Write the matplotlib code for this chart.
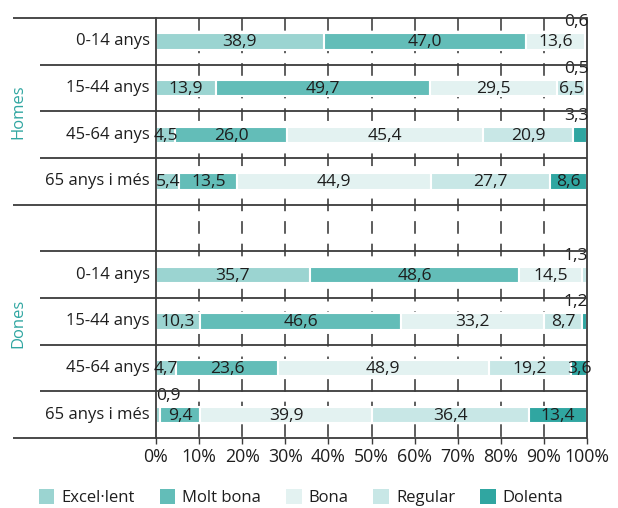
import numpy as np
import matplotlib.pyplot as plt
from matplotlib.patches import Patch

plt.rcParams['font.family'] = ['Open Sans', 'DejaVu Sans']

ages = ['0-14 anys', '15-44 anys', '45-64 anys', '65 anys i més']
groups = ['Homes', 'Dones']
levels = ['Excel·lent', 'Molt bona', 'Bona', 'Regular', 'Dolenta']
colors = ['#9bd4d1', '#63bdb8', '#e3f2f1', '#c8e7e6', '#30a6a1']

# Homes (4 age bands) followed by Dones (4 age bands)
excellent = [38.9, 13.9, 4.5, 5.4, 35.7, 10.3, 4.7, 0.9]
molt_bona = [47.0, 49.7, 26.0, 13.5, 48.6, 46.6, 23.6, 9.4]
bona = [13.6, 29.5, 45.4, 44.9, 14.5, 33.2, 48.9, 39.9]
regular = [0.6, 6.5, 20.9, 27.7, 1.3, 8.7, 19.2, 36.4]
dolenta = [0.0, 0.5, 3.3, 8.6, 0.0, 1.2, 3.6, 13.4]

series = [excellent, molt_bona, bona, regular, dolenta]
# labels that sit above the bar instead of inside it: (row, series)
above = {(0, 3), (1, 4), (2, 4), (4, 3), (5, 4), (7, 0)}

ypos = [0, 1, 2, 3, 5, 6, 7, 8]
text_col = '#1e1e1e'
line_col = '#3c3c3c'

fig = plt.figure(figsize=(6.18, 5.08), dpi=100)
ax = fig.add_axes([156 / 618, 70 / 508, 431 / 618, 420 / 508])

# dashed guides behind the bars
for x in range(10, 100, 10):
    ax.plot([x, x], [-0.5, 8.5], color='#505050', lw=1.3,
            linestyle=(0, (7, 5.5)), zorder=0)

left = np.zeros(len(ypos))
for k, vals in enumerate(series):
    vals = np.array(vals)
    ax.barh(ypos, vals, left=left, height=0.35, color=colors[k],
            edgecolor='white', linewidth=1.5, zorder=2)
    for r, (y, v, l) in enumerate(zip(ypos, vals, left)):
        if v == 0:
            continue
        s = f'{v:.1f}'.replace('.', ',')
        if (r, k) in above:
            if l < 50:
                ax.text(l + 0.1, y - 0.41, s, ha='left', va='center',
                        fontsize=12.6, color=text_col, zorder=4)
            else:
                ax.text(100.3, y - 0.41, s, ha='right', va='center',
                        fontsize=12.6, color=text_col, zorder=4)
        else:
            ax.text(l + v / 2, y + 0.02, s, ha='center', va='center',
                    fontsize=12.6, color=text_col, zorder=4)
    left += vals

ax.set_xlim(0, 100)
ax.set_ylim(8.5, -0.5)
ax.set_xticks(range(0, 101, 10))
ax.set_xticklabels([f'{t}%' for t in range(0, 101, 10)])
ax.tick_params(axis='x', length=4, width=1, color=line_col,
               labelsize=12.8, labelcolor=text_col, pad=3)
ax.set_yticks([])
ax.spines['bottom'].set_visible(False)
ax.spines['top'].set_visible(False)
for sp in ['left', 'right']:
    ax.spines[sp].set_color(line_col)
    ax.spines[sp].set_linewidth(1.3)

# row separators running out into the label column
trans = ax.get_yaxis_transform()
for b in np.arange(-0.5, 9, 1.0):
    x0 = -0.332 if b in (-0.5, 3.5, 8.5) else -0.269
    ax.plot([x0, 1], [b, b], color=line_col, lw=1.3, transform=trans,
            clip_on=False, zorder=5, solid_capstyle='butt')

for g, grp in enumerate(groups):
    for a, age in enumerate(ages):
        ax.text(-0.014, ypos[g * 4 + a], age, transform=trans, ha='right',
                va='center', fontsize=12, color=text_col)

ax.text(-0.320, 1.51, 'Homes', transform=trans, rotation=90, ha='center',
        va='center', fontsize=12, color='#30a6a1')
ax.text(-0.320, 6.04, 'Dones', transform=trans, rotation=90, ha='center',
        va='center', fontsize=12, color='#30a6a1')

handles = [Patch(facecolor=c, edgecolor='none') for c in colors]
fig.legend(handles, levels, loc='center', bbox_to_anchor=(0.487, 0.02),
           ncol=5, frameon=False, fontsize=12, handlelength=0.95,
           handleheight=0.95, handletextpad=0.4, columnspacing=1.5,
           labelcolor=text_col)

fig.savefig('out.png', dpi=100)
